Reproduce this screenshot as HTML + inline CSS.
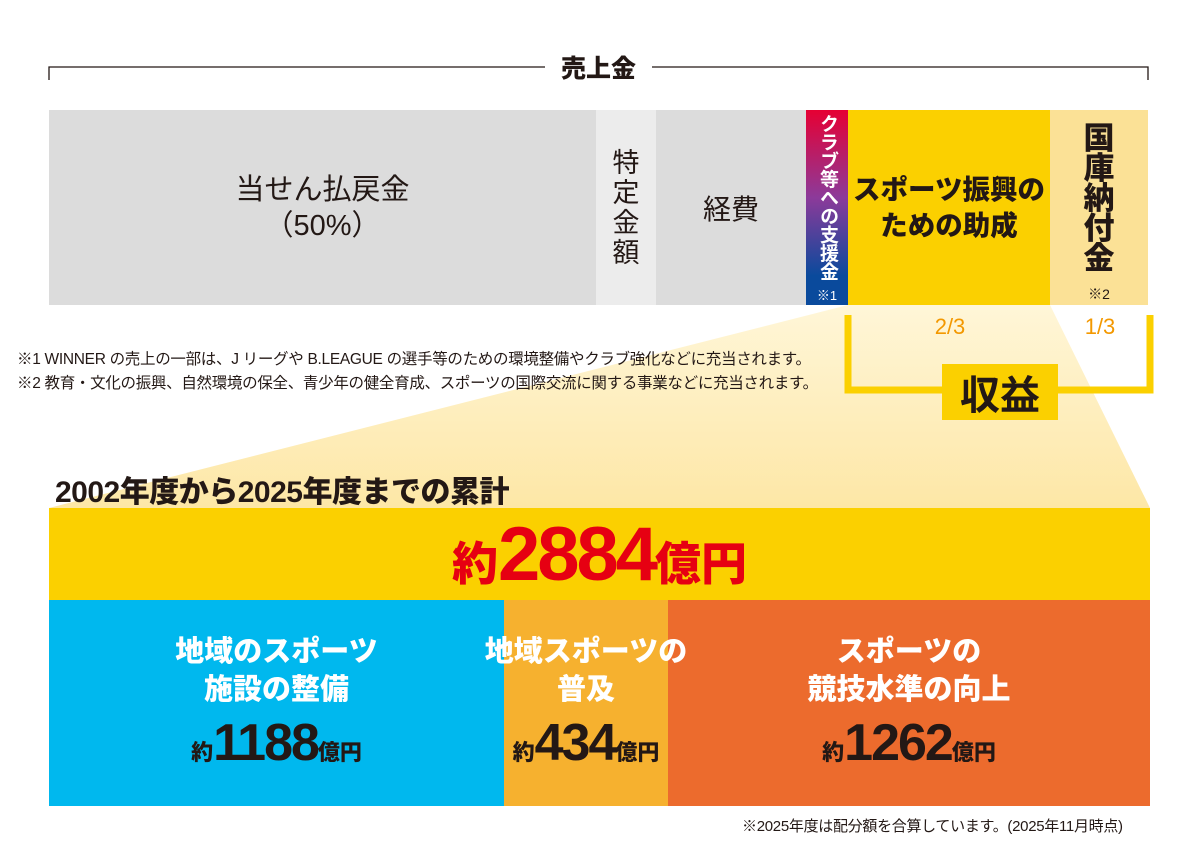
<!DOCTYPE html>
<html><head><meta charset="utf-8"><style>
body{margin:0;width:1200px;height:851px;background:#fff;position:relative;overflow:hidden;font-family:"Liberation Sans","Noto Sans CJK JP",sans-serif;color:#231815}
div{position:absolute;box-sizing:border-box}
.c{display:flex;align-items:center;justify-content:center;text-align:center}
.b{font-weight:900}
</style></head><body>
<svg style="position:absolute;left:0;top:0" width="1200" height="851">
<defs><linearGradient id="g" x1="0" y1="0" x2="0" y2="1"><stop offset="0" stop-color="#fff6d8"/><stop offset="1" stop-color="#fde7a6"/></linearGradient>
<linearGradient id="v" x1="0" y1="0" x2="0" y2="1"><stop offset="0" stop-color="#e60033"/><stop offset="0.45" stop-color="#8c3a9a"/><stop offset="0.85" stop-color="#0a4a9c"/></linearGradient></defs>
<polygon points="848,305 1050,305 1150,508 49,508" fill="url(#g)"/>
<path d="M49,80 V67 H545 M652,67 H1148 V80" fill="none" stroke="#231815" stroke-width="1.3"/>
<rect x="806" y="110" width="42" height="195" fill="url(#v)"/>
<path d="M848,315 V390 H1150 V315" fill="none" stroke="#fbd000" stroke-width="7"/>
</svg>
<div class="c b" style="left:545px;top:50px;width:107px;height:34px;font-size:25px">売上金</div>
<div class="c" style="left:49px;top:110px;width:547px;height:195px;background:#dcdcdc;font-size:29px;line-height:36px">当せん払戻金<br>（50%）</div>
<div class="c" style="left:596px;top:110px;width:60px;height:195px;background:#ececec;font-size:27px;line-height:30px">特<br>定<br>金<br>額</div>
<div class="c" style="left:656px;top:110px;width:150px;height:195px;background:#dcdcdc;font-size:28px">経費</div>
<div style="left:806px;top:114px;width:42px;height:172px;writing-mode:vertical-rl;color:#fff;font-size:19px;font-weight:bold;line-height:42px;letter-spacing:-0.5px">クラブ等への支援金</div>
<div class="c" style="left:806px;top:284px;width:42px;height:20px;color:#fff;font-size:13px">※1</div>
<div class="c b" style="left:848px;top:110px;width:202px;height:195px;background:#fbd000;font-size:27.5px;line-height:36px">スポーツ振興の<br>ための助成</div>
<div class="b" style="left:1050px;top:110px;width:98px;height:195px;background:#fbe196;font-size:31px;line-height:30px;text-align:center;padding-top:14px">国<br>庫<br>納<br>付<br>金</div>
<div class="c" style="left:1050px;top:284px;width:98px;height:20px;font-size:14px">※2</div>
<div class="c" style="left:900px;top:314px;width:100px;height:26px;color:#f39800;font-size:22px">2/3</div>
<div class="c" style="left:1052px;top:314px;width:96px;height:26px;color:#f39800;font-size:22px">1/3</div>
<div class="c" style="left:942px;top:364px;width:116px;height:56px;background:#fbd000;font-size:40px;font-weight:bold">収益</div>
<div style="left:17px;top:348px;font-size:15.5px;line-height:24px;white-space:nowrap;letter-spacing:-0.3px">※1 WINNER の売上の一部は、J リーグや B.LEAGUE の選手等のための環境整備やクラブ強化などに充当されます。<br>※2 教育・文化の振興、自然環境の保全、青少年の健全育成、スポーツの国際交流に関する事業などに充当されます。</div>
<div class="b" style="left:55px;top:467px;font-size:30px;white-space:nowrap;letter-spacing:-0.5px">2002年度から2025年度までの累計</div>
<div class="c b" style="left:49px;top:508px;width:1101px;height:92px;background:#fbd000;color:#e60012;font-size:46px"><span>約<span style="font-size:76px;letter-spacing:-3px">2884</span>億円</span></div>
<div class="c b" style="left:49px;top:600px;width:455px;height:206px;background:#00b8ee;flex-direction:column"><div style="position:static;color:#fff;font-size:29px;line-height:38px">地域のスポーツ<br>施設の整備</div><div style="position:static;font-size:22px;margin-top:4px">約<span style="font-size:52px;letter-spacing:-2px">1188</span>億円</div></div>
<div class="c b" style="left:668px;top:600px;width:482px;height:206px;background:#ec6b2d;flex-direction:column"><div style="position:static;color:#fff;font-size:29px;line-height:38px">スポーツの<br>競技水準の向上</div><div style="position:static;font-size:22px;margin-top:4px">約<span style="font-size:52px;letter-spacing:-2px">1262</span>億円</div></div>
<div style="left:504px;top:600px;width:164px;height:206px;background:#f6b12f"></div>
<div class="c b" style="left:454px;top:600px;width:264px;height:206px;flex-direction:column;z-index:2"><div style="position:static;color:#fff;font-size:29px;line-height:38px;white-space:nowrap">地域スポーツの<br>普及</div><div style="position:static;font-size:22px;margin-top:4px;white-space:nowrap">約<span style="font-size:52px;letter-spacing:-2px">434</span>億円</div></div>
<div style="left:742px;top:815px;font-size:15px;white-space:nowrap;letter-spacing:-0.3px">※2025年度は配分額を合算しています。(2025年11月時点)</div>
</body></html>
